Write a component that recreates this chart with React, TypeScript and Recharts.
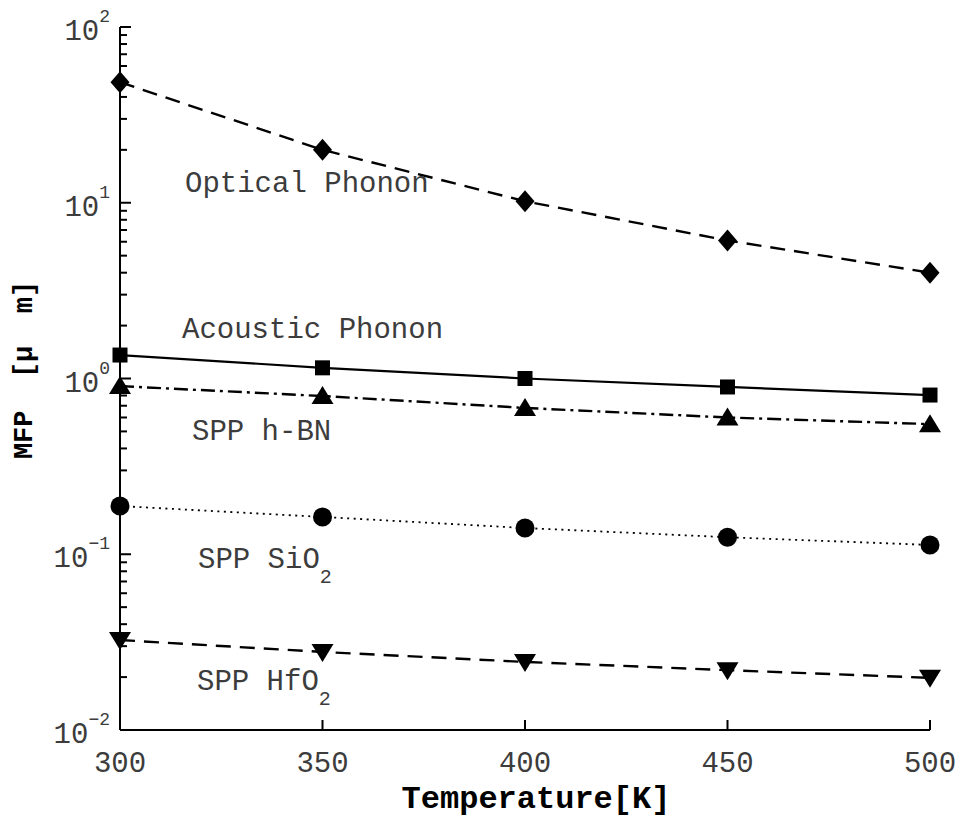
import { LineChart, Line, XAxis, YAxis } from 'recharts'

const temperature = [300, 350, 400, 450, 500]
const opticalPhonon = [48.5, 20, 10.2, 6.1, 4.0]
const acousticPhonon = [1.36, 1.15, 1.0, 0.895, 0.805]
const sppHBN = [0.905, 0.795, 0.68, 0.6, 0.55]
const sppSiO2 = [0.188, 0.163, 0.141, 0.125, 0.113]
const sppHfO2 = [0.0325, 0.0278, 0.0244, 0.0219, 0.0198]

const xTicks = [300, 350, 400, 450, 500]
const decadeExponents = [-2, -1, 0, 1, 2]

const data = temperature.map((t, i) => ({
    t,
    optical: opticalPhonon[i],
    acoustic: acousticPhonon[i],
    hbn: sppHBN[i],
    sio2: sppSiO2[i],
    hfo2: sppHfO2[i],
}))

// decades plus the 2..9 minor ticks between them
const yTicks: number[] = []
decadeExponents.forEach((e, i) => {
    yTicks.push(Math.pow(10, e))
    if (i < decadeExponents.length - 1) {
        for (let m = 2; m <= 9; m++) yTicks.push(Number((m * Math.pow(10, e)).toPrecision(3)))
    }
})

const MONO = "'Liberation Mono', 'DejaVu Sans Mono', monospace"
const TEXT = '#3c3c3c'

function YTick({ x, y, payload }: any) {
    const e = Math.log10(payload.value)
    const major = Math.abs(e - Math.round(e)) < 1e-6
    if (!major) return <line x1={x} y1={y} x2={x + 7} y2={y} stroke="#000" strokeWidth={2} />
    const exp = Math.round(e)
    return (
        <g>
            <line x1={x} y1={y} x2={x + 11} y2={y} stroke="#000" strokeWidth={2} />
            <text x={x - 10} y={y + 13} textAnchor="end" fontSize={29} fill={TEXT} fontFamily={MONO}>
                10<tspan dy={-18} fontSize={18}>{exp < 0 ? '\u2212' + Math.abs(exp) : exp}</tspan>
            </text>
        </g>
    )
}

function XTick({ x, y, payload }: any) {
    return (
        <g>
            <line x1={x} y1={y} x2={x} y2={y - 10} stroke="#000" strokeWidth={2} />
            <text x={x} y={y + 42} textAnchor="middle" fontSize={29} fill={TEXT} fontFamily={MONO}>
                {payload.value}
            </text>
        </g>
    )
}

function Diamond({ cx, cy }: any) {
    return <polygon points={`${cx},${cy - 11} ${cx + 9.5},${cy} ${cx},${cy + 11} ${cx - 9.5},${cy}`} fill="#000" />
}
function Square({ cx, cy }: any) {
    return <rect x={cx - 7.5} y={cy - 7.5} width={15} height={15} fill="#000" />
}
function TriUp({ cx, cy }: any) {
    return <polygon points={`${cx},${cy - 10} ${cx + 11},${cy + 8} ${cx - 11},${cy + 8}`} fill="#000" />
}
function TriDown({ cx, cy }: any) {
    return <polygon points={`${cx},${cy + 10} ${cx + 11},${cy - 8} ${cx - 11},${cy - 8}`} fill="#000" />
}
function Circle({ cx, cy }: any) {
    return <circle cx={cx} cy={cy} r={9.5} fill="#000" />
}

function XTitle({ viewBox }: any) {
    return (
        <text x={viewBox.x + viewBox.width / 2 + 11} y={800} textAnchor="middle" fontSize={32}
            fontWeight="bold" fill="#000" fontFamily={MONO}>
            Temperature[K]
        </text>
    )
}

function YTitle() {
    return (
        <text x={0} y={0} transform="translate(24, 362) rotate(-90)" textAnchor="middle" fontSize={27}
            fontWeight="bold" fill="#000" fontFamily={MONO} style={{ whiteSpace: 'pre' }}>
            {'MFP  [\u03bc  m]'}
        </text>
    )
}

export default function App() {
    return (
        <div style={{ position: 'relative', width: 950, height: 813 }}>
            <LineChart width={950} height={813} data={data} margin={{ top: 19, right: 28, left: 52, bottom: 31 }}
                style={{ overflow: 'visible' }}>
                <XAxis
                    dataKey="t"
                    type="number"
                    domain={[300, 500]}
                    ticks={xTicks}
                    interval={0}
                    height={60}
                    tickSize={0}
                    tickMargin={0}
                    tick={<XTick />}
                    axisLine={{ stroke: '#000', strokeWidth: 2 }}
                    label={<XTitle />}
                />
                <YAxis
                    type="number"
                    scale="log"
                    domain={[0.01, 100]}
                    ticks={yTicks}
                    interval={0}
                    width={60}
                    tickSize={0}
                    tickMargin={0}
                    tick={<YTick />}
                    axisLine={{ stroke: '#000', strokeWidth: 2 }}
                />
                <Line dataKey="optical" stroke="#000" strokeWidth={2.4} strokeDasharray="15 9" dot={<Diamond />} isAnimationActive={false} />
                <Line dataKey="acoustic" stroke="#000" strokeWidth={2.2} dot={<Square />} isAnimationActive={false} />
                <Line dataKey="hbn" stroke="#000" strokeWidth={2.4} strokeDasharray="14 5 3 5" dot={<TriUp />} isAnimationActive={false} />
                <Line dataKey="sio2" stroke="#000" strokeWidth={1.8} strokeDasharray="2 4.5" dot={<Circle />} isAnimationActive={false} />
                <Line dataKey="hfo2" stroke="#000" strokeWidth={2.4} strokeDasharray="15 9" dot={<TriDown />} isAnimationActive={false} />
            </LineChart>
            <svg width={950} height={813} style={{ position: 'absolute', left: 0, top: 0, pointerEvents: 'none' }}>
                <YTitle />
                <g fontFamily={MONO} fontSize={29} fill={TEXT}>
                    <text x={177} y={184}>Optical Phonon</text>
                    <text x={174} y={330}>Acoustic Phonon</text>
                    <text x={184} y={432}>SPP h-BN</text>
                    <text x={190} y={560}>SPP SiO<tspan dy={15} fontSize={20}>2</tspan></text>
                    <text x={189} y={682}>SPP HfO<tspan dy={15} fontSize={20}>2</tspan></text>
                </g>
            </svg>
        </div>
    )
}
